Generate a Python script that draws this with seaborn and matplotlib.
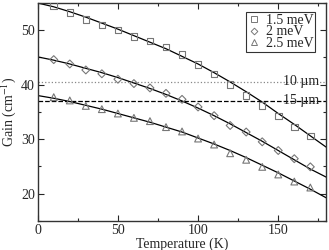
import numpy as np
import pandas as pd
import seaborn as sns
import matplotlib.pyplot as plt
from matplotlib.ticker import MultipleLocator

temps = [10, 20, 30, 40, 50, 60, 70, 80, 90, 100, 110, 120, 130, 140, 150, 160, 170]
gain_15 = [54.5, 53.3, 52.0, 51.0, 50.0, 48.8, 48.0, 46.9, 45.5, 43.7, 42.0, 40.0, 38.0, 36.2, 34.2, 32.2, 30.6]
gain_20 = [44.6, 43.8, 42.7, 42.0, 41.0, 40.2, 39.4, 38.4, 37.3, 35.9, 34.3, 32.5, 31.3, 29.5, 27.9, 26.4, 24.9]
gain_25 = [37.7, 37.1, 36.1, 35.5, 34.7, 33.9, 33.3, 32.2, 31.4, 30.1, 29.0, 27.4, 26.2, 24.9, 23.5, 22.2, 21.1]

# fitted curves
fit_t = [0, 10, 20, 30, 40, 50, 60, 70, 80, 90, 100, 110, 120, 130, 140, 150, 160, 170, 180]
fit_15 = [55.0, 54.3, 53.4, 52.4, 51.3, 50.2, 49.0, 47.8, 46.6, 45.2, 43.8, 42.2, 40.5, 38.7, 36.8, 34.7, 32.7, 30.6, 28.5]
fit_20 = [45.1, 44.5, 43.8, 43.0, 42.2, 41.3, 40.3, 39.3, 38.2, 37.0, 35.7, 34.3, 32.8, 31.2, 29.6, 27.9, 26.2, 24.5, 23.0]
fit_25 = [38.0, 37.5, 36.9, 36.2, 35.5, 34.7, 33.9, 33.1, 32.2, 31.3, 30.2, 29.1, 27.9, 26.6, 25.2, 23.8, 22.3, 20.8, 19.2]

labels = ['1.5 meV', '2 meV', '2.5 meV']
markers = ['s', 'D', '^']

# thresholds
loss_10 = 40.5
loss_15 = 37.0

sns.set_style('ticks')
plt.rcParams['font.family'] = ['Liberation Serif', 'DejaVu Serif']
plt.rcParams['mathtext.fontset'] = 'stix'

fig = plt.figure(figsize=(3.29, 2.5), dpi=100)
ax = fig.add_axes([0.1146, 0.117, 0.8774, 0.871])

ax.axhline(loss_10, color='#888888', ls=':', lw=0.9)
ax.axhline(loss_15, color='black', ls='--', lw=0.9)
ax.text(164, loss_10, '10 µm', ha='center', va='center', fontsize=10)
ax.text(164, loss_15, '15 µm', ha='center', va='center', fontsize=10)

for fit in [fit_15, fit_20, fit_25]:
    sns.lineplot(x=fit_t, y=fit, ax=ax, color='black', lw=0.9)

handles = []
for vals, lab, m in zip([gain_15, gain_20, gain_25], labels, markers):
    ms = 22 if m == 's' else (16 if m == 'D' else 24)
    sns.scatterplot(x=temps, y=vals, ax=ax, marker=m, s=ms, facecolor='none',
                    edgecolor='#777777', linewidth=0.8, zorder=3)
    h, = ax.plot([], [], ls='none', marker=m, mfc='none', mec='#777777', mew=0.7,
                 ms=4.0 if m != 'D' else 3.4, label=lab)
    handles.append(h)

leg = ax.legend(handles=handles, loc='upper right', fontsize=10, frameon=True,
                fancybox=False, edgecolor='black', borderpad=0.15, handletextpad=0.4,
                labelspacing=-0.1, handlelength=0.9, borderaxespad=0,
                bbox_to_anchor=(0.962, 0.96))
leg.get_frame().set_linewidth(0.8)

ax.set_xlim(0, 180)
ax.set_ylim(15, 55)
ax.xaxis.set_major_locator(MultipleLocator(50))
ax.xaxis.set_minor_locator(MultipleLocator(25))
ax.yaxis.set_major_locator(MultipleLocator(10))
ax.yaxis.set_minor_locator(MultipleLocator(5))
ax.tick_params(which='both', direction='in', top=True, right=True, labelsize=10, pad=2)
ax.tick_params(which='major', length=4, width=0.8)
ax.tick_params(which='minor', length=2.5, width=0.8)
for sp in ax.spines.values():
    sp.set_linewidth(1.0)
    sp.set_color('#333333')

ax.set_xlabel('Temperature (K)', fontsize=10, labelpad=1)
ax.set_ylabel('Gain (cm$^{-1}$)', fontsize=10, labelpad=2)

fig.savefig('out.png', dpi=100)
